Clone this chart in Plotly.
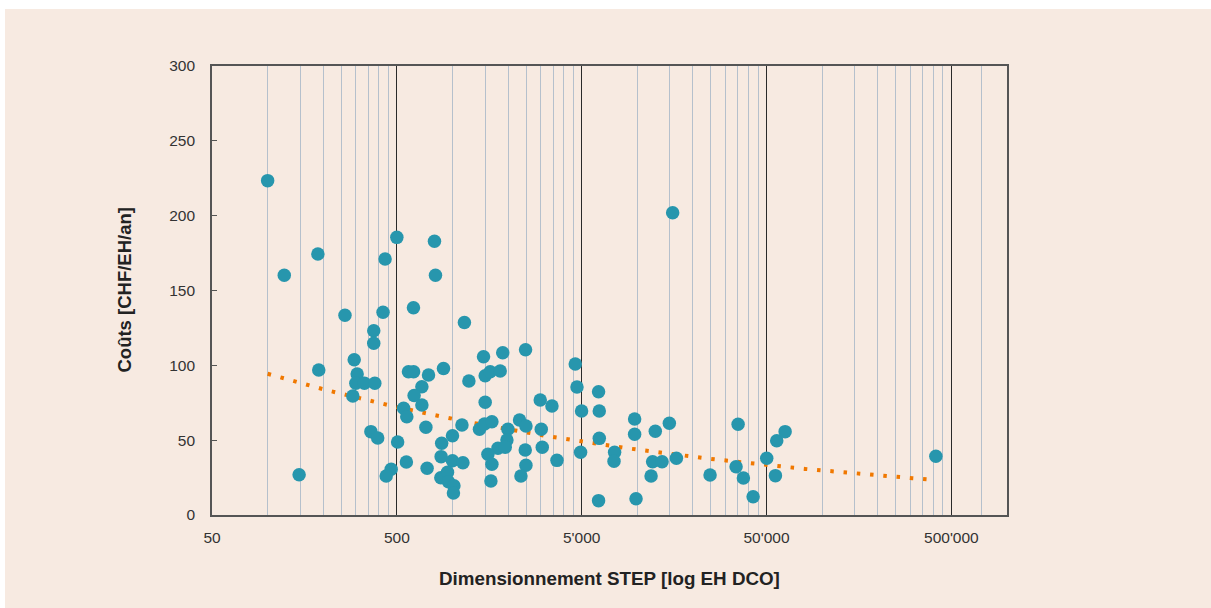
import numpy as np
import plotly.graph_objects as go

# ---- data ----
size_eh = [100, 123, 187, 432, 500, 615, 262, 421, 375, 375,
           294, 189, 305, 300, 334, 380, 289, 148, 362, 394,
           505, 544, 566, 563, 466, 438, 578, 616, 742, 894,
           683, 620, 683, 718, 729, 874, 868, 1000, 1125, 1000,
           1139, 865, 940, 951, 1018, 1012, 1227, 1472, 1503, 1600,
           1812, 1870, 1503, 1400, 1490, 1634, 1995, 1970, 1762, 1929,
           1555, 1634, 1614, 2306, 2497, 2475, 2497, 2346, 2485, 2984,
           3022, 3060, 3453, 3675, 4616, 4716, 4994, 4932, 6170, 6226,
           6226, 6170, 7535, 7480, 9670, 9670, 9840, 11870, 12100, 13610,
           12510, 14900, 16270, 15530, 24750, 35090, 34220, 37490, 42310, 50130,
           56780, 63030, 55880, 412200, 799, 809, 1160]
cost = [223.4, 160.2, 174.4, 171.0, 185.5, 138.5, 133.4, 135.4, 123.1, 114.8,
        103.8, 96.9, 94.2, 88.0, 88.0, 88.0, 79.5, 26.9, 55.7, 51.4,
        48.8, 71.3, 65.7, 35.4, 30.5, 26.1, 95.7, 95.7, 93.5, 97.9,
        85.7, 79.8, 73.5, 58.6, 31.2, 47.9, 39.0, 53.0, 60.1, 36.3,
        34.9, 24.9, 28.5, 22.2, 19.6, 14.7, 89.5, 105.8, 93.1, 95.7,
        96.2, 108.4, 75.3, 57.3, 60.8, 62.3, 57.3, 50.1, 44.6, 45.2,
        40.6, 33.9, 22.7, 63.5, 59.5, 43.4, 33.2, 26.1, 110.4, 76.8,
        57.3, 45.2, 72.8, 36.5, 100.9, 85.5, 69.5, 41.9, 82.4, 69.5,
        51.2, 9.6, 41.9, 35.9, 64.1, 53.9, 10.9, 26.1, 35.6, 35.6,
        55.9, 61.3, 37.9, 202.0, 26.7, 60.6, 32.3, 24.7, 12.2, 37.9,
        49.6, 55.7, 26.3, 39.2, 182.9, 160.2, 128.6]

x_tickvals = [50, 500, 5000, 50000, 500000]
x_ticktext = ["50", "500", "5'000", "50'000", "500'000"]
x_minor_grid = [m * k for m in (50, 500, 5000, 50000) for k in range(2, 10)] + [726000]

x_title = "Dimensionnement STEP [log EH DCO]"
y_title = "Coûts [CHF/EH/an]"

BG = "#F7EAE1"
TEAL = "#2796AD"
ORANGE = "#F07800"
FONT = "Liberation Sans, Arial, sans-serif"

# power trend line (least squares in log-log space)
lx = np.log(np.array(size_eh, dtype=float))
ly = np.log(np.array(cost, dtype=float))
b, a = np.polyfit(lx, ly, 1)
tx = np.geomspace(min(size_eh), max(size_eh), 200)
ty = np.exp(a) * tx ** b

fig = go.Figure()
fig.add_trace(go.Scatter(x=tx, y=ty, mode="lines",
                         line=dict(color=ORANGE, width=4, dash="3.5px,9.8px"),
                         hoverinfo="skip", showlegend=False))
fig.add_trace(go.Scatter(x=size_eh, y=cost, mode="markers",
                         marker=dict(color=TEAL, size=13.5, line=dict(width=0)),
                         showlegend=False))

L, R, T, B = 212, 204, 66, 93
W, H = 1211, 608
pw, ph = W - L - R, H - T - B

fig.update_layout(
    width=W, height=H,
    margin=dict(l=L, r=R, t=T, b=B),
    paper_bgcolor=BG, plot_bgcolor=BG,
    font=dict(family=FONT, size=15, color="#333333"),
    showlegend=False,
    xaxis=dict(type="log", range=[np.log10(50), 6.0],
               tickmode="array", tickvals=x_tickvals, ticktext=x_ticktext,
               showgrid=True, gridcolor="#2a2a2a", gridwidth=1.3,
               minor=dict(tickmode="array", tickvals=x_minor_grid, showgrid=True,
                          gridcolor="#B5C0CC", gridwidth=1.3, ticks=""),
               showline=True, linecolor="#555555", linewidth=1.6, mirror=True,
               ticks="", ticklabelstandoff=8, zeroline=False,
               tickfont=dict(size=15.5, color="#333333")),
    yaxis=dict(range=[0, 300], tickmode="array", tickvals=[0, 50, 100, 150, 200, 250, 300],
               showgrid=False, zeroline=False,
               showline=True, linecolor="#555555", linewidth=1.6, mirror=True,
               ticks="inside", ticklen=5, tickcolor="#555555", tickwidth=1.2,
               ticklabelstandoff=12,
               tickfont=dict(size=15.5, color="#333333")),
    annotations=[
        dict(text=x_title, xref="paper", yref="paper", x=0.5, y=(515 - 578) / ph,
             xanchor="center", yanchor="middle", showarrow=False,
             font=dict(size=18.8, color="#222222", family=FONT, weight="bold")),
        dict(text=y_title, xref="paper", yref="paper", x=(124 - L) / pw, y=0.5,
             xanchor="center", yanchor="middle", showarrow=False, textangle=-90,
             font=dict(size=18.5, color="#222222", family=FONT, weight="bold")),
    ],
    shapes=[
        dict(type="rect", xref="paper", yref="paper",
             x0=-L / pw, x1=(5 - L) / pw, y0=-B / ph, y1=(H - B) / ph,
             fillcolor="white", line=dict(width=0), layer="above"),
        dict(type="rect", xref="paper", yref="paper",
             x0=-L / pw, x1=(W - L) / pw, y0=(H - B - 9) / ph, y1=(H - B) / ph,
             fillcolor="white", line=dict(width=0), layer="above"),
    ],
)

fig.write_html("out.html")
